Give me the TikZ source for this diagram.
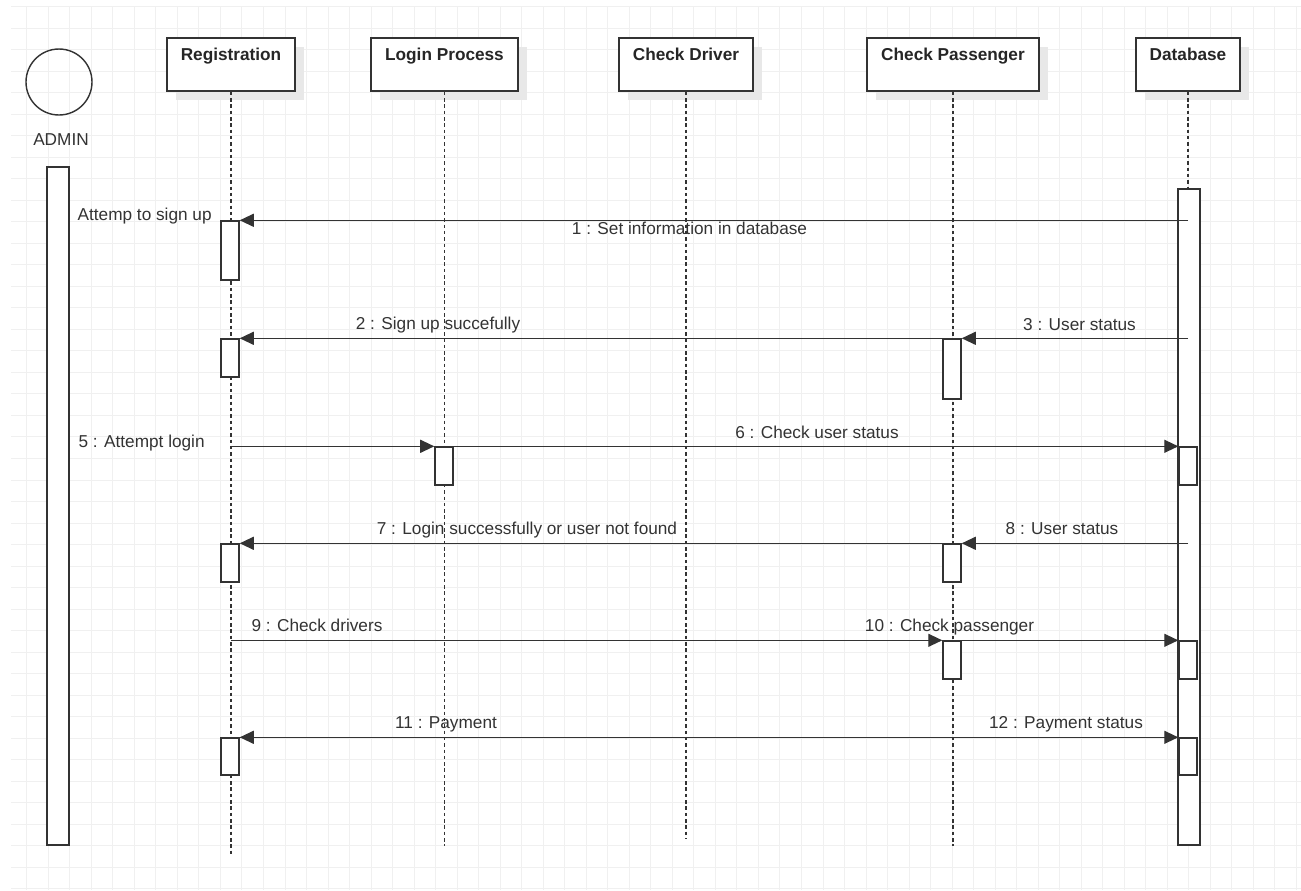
\documentclass[tikz,border=0pt]{standalone}
\usepackage{fontspec}
\setmainfont{Liberation Sans}
\usetikzlibrary{arrows.meta,fit,shadows,calc}
\definecolor{ink}{HTML}{333333}
\definecolor{gridc}{HTML}{F0F0F0}
\definecolor{shadowc}{HTML}{E8E8E8}
\begin{document}
\begin{tikzpicture}[x=0.02cm,y=-0.02cm,
  every node/.style={font=\fontsize{9.8}{12}\selectfont, text=ink},
  head/.style={draw=ink, line width=0.8pt, fill=white, rectangle, minimum height=1.06cm, inner sep=0pt,
    drop shadow={shadow xshift=5pt,shadow yshift=-5pt,fill=shadowc,opacity=1}},
  headtext/.style={font=\fontsize{9.8}{12}\selectfont\bfseries, text=black!85, inner sep=0pt, anchor=north},
  actbar/.style={draw=ink, line width=0.8pt, fill=white, rectangle, inner sep=0pt},
  life/.style={draw=ink, line width=0.6pt, dash pattern=on 2pt off 1.6pt},
  msg/.style={draw=ink, line width=0.75pt, -{Triangle[length=8pt,width=7.4pt]}},
  lbl/.style={anchor=base, inner sep=0pt},
  gridline/.style={draw=gridc, line width=0.5pt}
  ]
\useasboundingbox (0,0) rectangle (1301,890);
\fill[white] (0,0) rectangle (1301,890);
% grid
\foreach \i in {0,...,59} {\draw[gridline] ({26.7+\i*21.52},6.5) -- ({26.7+\i*21.52},890);}
\foreach \j in {0,...,41} {\draw[gridline] (11,{6.5+\j*21.52}) -- (1301,{6.5+\j*21.52});}

% actor
\node[circle, draw=ink, line width=0.8pt, minimum size=1.32cm, inner sep=0pt] (actor) at (59,82) {};
\node[lbl] (admin) at (61,145) {ADMIN};

% header boxes
\node[head, minimum width=2.56cm] (reg) at (231,64.5) {};
\node[head, minimum width=2.94cm] (lp) at (444.5,64.5) {};
\node[head, minimum width=2.68cm] (cd) at (686,64.5) {};
\node[head, minimum width=3.44cm] (cp) at (953,64.5) {};
\node[head, minimum width=2.08cm] (db) at (1188,64.5) {};
\node[headtext] (regt) at ([yshift=-5.8pt]reg.north) {Registration};
\node[headtext] (lpt) at ([yshift=-5.8pt]lp.north) {Login Process};
\node[headtext] (cdt) at ([yshift=-5.8pt]cd.north) {Check Driver};
\node[headtext] (cpt) at ([yshift=-5.8pt]cp.north) {Check Passenger};
\node[headtext] (dbt) at ([yshift=-5.8pt]db.north) {Database};

% lifelines
\draw[life] (reg.south) -- ++(0,763);
\draw[life] (lp.south) -- ++(0,754);
\draw[life] (cd.south) -- ++(0,747);
\draw[life] (cp.south) -- ++(0,754);
\draw[life] (db.south) -- ++(0,98);

% activation bars
\node[actbar, fit={(47,167) (69,845)}] (adm) {};
\node[actbar, fit={(1178,189) (1200,845)}] (dbb) {};
\node[actbar, fit={(221,221) (239,280)}] (r1) {};
\node[actbar, fit={(221,339) (239,377)}] (r2) {};
\node[actbar, fit={(221,544) (239,582)}] (r3) {};
\node[actbar, fit={(221,738) (239,775)}] (r4) {};
\node[actbar, fit={(435,447) (453,485)}] (lpb) {};
\node[actbar, fit={(943,339) (961,399)}] (c1) {};
\node[actbar, fit={(943,544) (961,582)}] (c2) {};
\node[actbar, fit={(943,641) (961,679)}] (c3) {};
\node[actbar, fit={(1179,447) (1197,485)}] (d1) {};
\node[actbar, fit={(1179,641) (1197,679)}] (d2) {};
\node[actbar, fit={(1179,738) (1197,775)}] (d3) {};

% messages
\draw[msg] (db.south |- r1.north east) -- (r1.north east);
\draw[msg] (c1.north west) -- (r2.north east);
\draw[msg] (db.south |- c1.north east) -- (c1.north east);
\draw[msg] (reg.south |- lpb.north west) -- (lpb.north west);
\draw[msg] (lpb.north east) -- (d1.north west);
\draw[msg] (c2.north west) -- (r3.north east);
\draw[msg] (db.south |- c2.north east) -- (c2.north east);
\draw[msg] (reg.south |- c3.north west) -- (c3.north west);
\draw[msg] (c3.north east) -- (d2.north west);
\draw[msg] (d3.north west) -- (r4.north east);
\draw[msg] (r4.north east) -- (d3.north west);

% labels
\node[lbl, anchor=base east] (t0) at (212,220) {Attemp to sign up};
\node[lbl] (t1) at (689.5,234) {1 : Set information in database};
\node[lbl] (t2) at (438,329) {2 : Sign up succefully};
\node[lbl] (t3) at (1079.5,330) {3 : User status};
\node[lbl, anchor=base east] (t5) at (205,447) {5 : Attempt login};
\node[lbl] (t6) at (817,438) {6 : Check user status};
\node[lbl] (t7) at (527,534) {7 : Login successfully or user not found};
\node[lbl] (t8) at (1062,534) {8 : User status};
\node[lbl] (t9) at (317,631) {9 : Check drivers};
\node[lbl] (t10) at (949.5,631) {10 : Check passenger};
\node[lbl] (t11) at (446,728) {11 : Payment};
\node[lbl] (t12) at (1066,728) {12 : Payment status};
\end{tikzpicture}
\end{document}
